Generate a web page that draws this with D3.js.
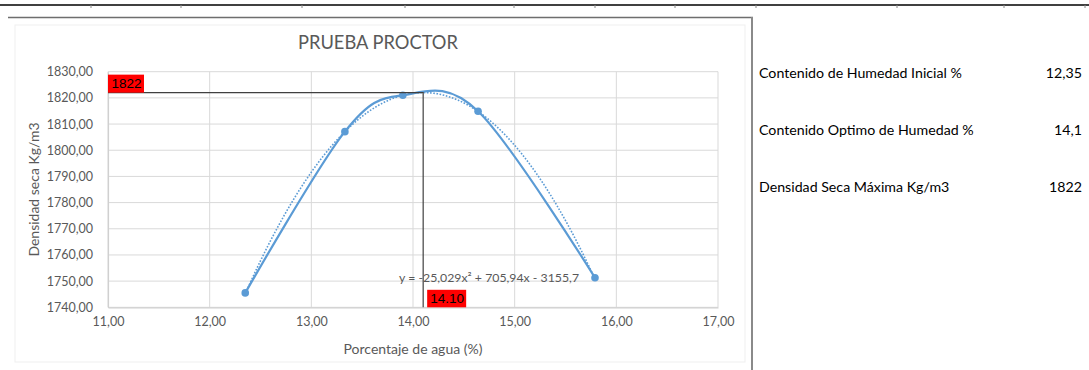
<!DOCTYPE html>
<html>
<head>
<meta charset="utf-8">
<script src="https://cdn.jsdelivr.net/npm/d3@7"></script>
<style>
  html, body { margin: 0; padding: 0; background: #fff; }
  svg { display: block; }
</style>
</head>
<body>
<svg id="chart" width="1089" height="370"></svg>
<script>
// ---- data ----
const humedad = [12.35, 13.33, 13.90, 14.64, 15.79];
const densidad = [1745.5, 1807.1, 1821.0, 1814.9, 1751.3];
const trendCoef = [-25.029, 705.94, -3155.7]; // a, b, c from the equation label
const optimo = { x: 14.10, y: 1822 };
const xTicks = [11, 12, 13, 14, 15, 16, 17];
const yTicks = [1740, 1750, 1760, 1770, 1780, 1790, 1800, 1810, 1820, 1830];
const tableLabels = ["Contenido de Humedad Inicial %", "Contenido Optimo de Humedad %", "Densidad Seca Máxima Kg/m3"];
const tableValues = ["12,35", "14,1", "1822"];
const title = "PRUEBA PROCTOR";
const xTitle = "Porcentaje de agua (%)";
const yTitle = "Densidad seca Kg/m3";
const equation = "y = -25,029x² + 705,94x - 3155,7";

// ---- setup ----
const svg = d3.select("#chart");
const font = "Lato, 'Open Sans', sans-serif";
const grey = "#595959";
const blue = "#5B9BD5";

const x = d3.scaleLinear().domain([11, 17]).range([108, 718]);
const y = d3.scaleLinear().domain([1740, 1830]).range([307.3, 71.7]);

const locale = d3.formatLocale({ decimal: ",", thousands: ".", grouping: [3], currency: ["", ""] });
const fmt = locale.format(".2f");

// spreadsheet decorations
svg.append("line").attr("x1", 0).attr("x2", 1089).attr("y1", 5).attr("y2", 5)
  .attr("stroke", "#000").attr("stroke-width", 1.5);
[91, 181, 302, 405, 514, 595, 675, 756, 897, 1004, 1085].forEach(px => {
  svg.append("line").attr("x1", px).attr("x2", px).attr("y1", 5).attr("y2", 8)
    .attr("stroke", "#888").attr("stroke-width", 1);
});
// chart frame
svg.append("rect").attr("x", 15).attr("y", 25).attr("width", 730).attr("height", 337)
  .attr("fill", "none").attr("stroke", "#efefef").attr("stroke-width", 1);
svg.append("line").attr("x1", 8).attr("x2", 753).attr("y1", 17.5).attr("y2", 17.5)
  .attr("stroke", "#6e6e6e").attr("stroke-width", 1.5);
svg.append("line").attr("x1", 752).attr("x2", 752).attr("y1", 17).attr("y2", 370)
  .attr("stroke", "#8a8a8a").attr("stroke-width", 2);

// title
svg.append("text").attr("x", 378).attr("y", 48.5).attr("text-anchor", "middle")
  .attr("font-family", font).attr("font-size", 18.3).attr("fill", grey).text(title);

// grid
const g = svg.append("g");
g.selectAll(".gy").data(yTicks).join("line")
  .attr("x1", x(11)).attr("x2", x(17)).attr("y1", d => y(d)).attr("y2", d => y(d))
  .attr("stroke", "#d9d9d9").attr("stroke-width", 1);
g.selectAll(".gx").data(xTicks).join("line")
  .attr("x1", d => x(d)).attr("x2", d => x(d)).attr("y1", y(1830)).attr("y2", y(1740))
  .attr("stroke", "#d9d9d9").attr("stroke-width", 1);

// axes
const xAxis = svg.append("g").attr("transform", `translate(0,${y(1740)})`)
  .call(d3.axisBottom(x).tickValues(xTicks).tickFormat(fmt).tickSize(0).tickPadding(10));
const yAxis = svg.append("g").attr("transform", `translate(${x(11)},0)`)
  .call(d3.axisLeft(y).tickValues(yTicks).tickFormat(fmt).tickSize(0).tickPadding(15));
[xAxis, yAxis].forEach(a => {
  a.select(".domain").attr("stroke", "#d0d0d0").attr("stroke-width", 1.2);
  a.selectAll("text").attr("font-family", font).attr("font-size", 12.5).attr("fill", grey);
});

// axis titles
svg.append("text").attr("x", 413).attr("y", 354).attr("text-anchor", "middle")
  .attr("font-family", font).attr("font-size", 14).attr("fill", grey).text(xTitle);
svg.append("text").attr("transform", `translate(39,${(y(1740) + y(1830)) / 2}) rotate(-90)`)
  .attr("text-anchor", "middle")
  .attr("font-family", font).attr("font-size", 14).attr("fill", grey).text(yTitle);

// trendline (polynomial from equation)
const xs = d3.range(0, 101).map(i => humedad[0] + (humedad[humedad.length - 1] - humedad[0]) * i / 100);
const poly = v => trendCoef[0] * v * v + trendCoef[1] * v + trendCoef[2];
svg.append("path").datum(xs)
  .attr("d", d3.line().x(d => x(d)).y(d => y(poly(d))))
  .attr("fill", "none").attr("stroke", blue).attr("stroke-width", 1.6)
  .attr("stroke-dasharray", "1.6,1.6");

// smoothed series
const pts = humedad.map((h, i) => [h, densidad[i]]);
svg.append("path").datum(pts)
  .attr("d", d3.line().x(d => x(d[0])).y(d => y(d[1])).curve(d3.curveCatmullRom.alpha(0)))
  .attr("fill", "none").attr("stroke", blue).attr("stroke-width", 2.2);
svg.selectAll(".pt").data(pts).join("circle")
  .attr("cx", d => x(d[0])).attr("cy", d => y(d[1])).attr("r", 3.8).attr("fill", blue);

// drop lines to optimum
svg.append("path")
  .attr("d", `M${x(11)},${y(optimo.y)}H${x(optimo.x)}V${y(1740)}`)
  .attr("fill", "none").attr("stroke", "#404040").attr("stroke-width", 1.2);

// equation
svg.append("text").attr("x", 399).attr("y", 282)
  .attr("font-family", font).attr("font-size", 12.3).attr("fill", grey).text(equation);

// red labels
const lab1 = svg.append("g");
lab1.append("rect").attr("x", x(11)).attr("y", y(optimo.y) - 18).attr("width", 36).attr("height", 18).attr("fill", "#ff0000");
lab1.append("text").attr("x", x(11) + 3.5).attr("y", y(optimo.y) - 4.5)
  .attr("font-family", "'Liberation Sans', Arial, sans-serif").attr("font-size", 13.5).attr("fill", "#000")
  .text(d3.format("d")(optimo.y));
const lab2 = svg.append("g");
lab2.append("rect").attr("x", x(optimo.x) + 4).attr("y", y(1740) - 17.5).attr("width", 39).attr("height", 17.5).attr("fill", "#ff0000");
lab2.append("text").attr("x", x(optimo.x) + 7).attr("y", y(1740) - 4)
  .attr("font-family", "'Liberation Sans', Arial, sans-serif").attr("font-size", 13.5).attr("fill", "#000")
  .text(d3.format(".2f")(optimo.x));

// side table
const rowY = [77.5, 134.5, 191.5];
tableLabels.forEach((t, i) => {
  svg.append("text").attr("x", 759).attr("y", rowY[i]).attr("font-family", font)
    .attr("font-size", 14.2).attr("fill", "#000").text(t);
  svg.append("text").attr("x", 1082).attr("y", rowY[i]).attr("text-anchor", "end").attr("font-family", font)
    .attr("font-size", 14.2).attr("fill", "#000").text(tableValues[i]);
});
</script>
</body>
</html>
